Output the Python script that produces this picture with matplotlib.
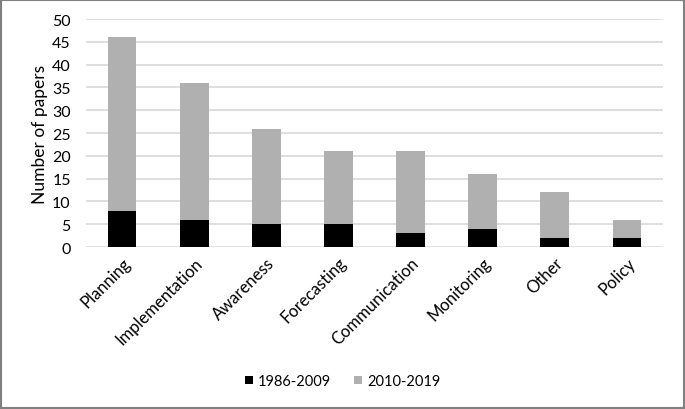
import numpy as np
import matplotlib
matplotlib.use("Agg")
from matplotlib import pyplot as plt

# data
categories = ['Planning', 'Implementation', 'Awareness', 'Forecasting',
              'Communication', 'Monitoring', 'Other', 'Policy']
early = [8, 6, 5, 5, 3, 4, 2, 2]      # 1986-2009
recent = [38, 30, 21, 16, 18, 12, 10, 4]  # 2010-2019
yticks = list(range(0, 55, 5))

plt.rcParams['font.family'] = ['Lato', 'DejaVu Sans']

fig = plt.figure(figsize=(6.85, 4.1), dpi=100)
ax = fig.add_axes([0.1255, 0.395, 0.8425, 0.556])

x = np.arange(len(categories))
ax.bar(x, early, width=0.4, color='#000000', label='1986-2009', zorder=3)
ax.bar(x, recent, width=0.4, bottom=early, color='#b0b0b0', label='2010-2019', zorder=3)

ax.set_xlim(-0.5, len(categories) - 0.5)
ax.set_ylim(0, 50)
ax.set_yticks(yticks)
ax.set_xticks(x)
ax.set_xticklabels(categories, rotation=45, ha='right', rotation_mode='anchor', fontsize=12)
ax.tick_params(axis='y', labelsize=11.5, length=0, pad=11)
ax.tick_params(axis='x', length=0, pad=5)
ax.yaxis.grid(True, color='#d9d9d9', linewidth=1.2, zorder=0)
for s in ax.spines.values():
    s.set_visible(False)
ax.set_ylabel('Number of papers', fontsize=12.5, labelpad=3)

ax.legend(loc='center', bbox_to_anchor=(0.5, 0.068), bbox_transform=fig.transFigure,
          ncol=2, frameon=False, fontsize=10.5, handlelength=0.55, handleheight=0.55,
          handletextpad=0.35, columnspacing=1.6)

# grey frame around the whole chart
fig.patches.append(plt.Rectangle((0.002, 0.003), 0.996, 0.994, transform=fig.transFigure,
                                 fill=False, edgecolor='#808080', linewidth=1.5))

fig.savefig('out.png', dpi=100)
